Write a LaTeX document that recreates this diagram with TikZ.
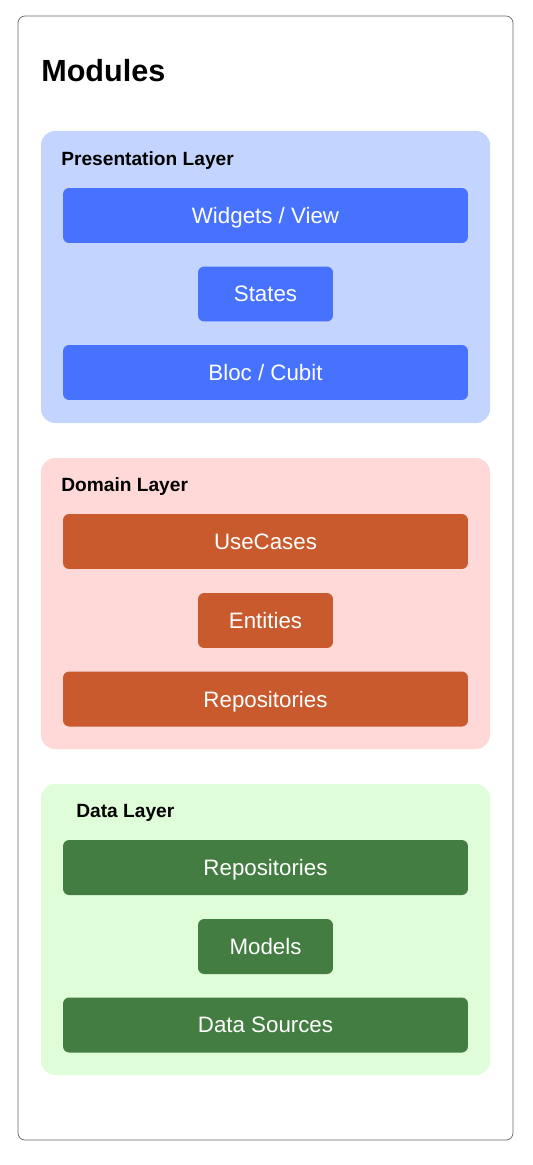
\documentclass[tikz,border=0pt]{standalone}
\usepackage{fontspec}
\setmainfont{Liberation Sans}
\definecolor{presbg}{HTML}{C3D5FF}
\definecolor{presbox}{HTML}{4771FF}
\definecolor{dombg}{HTML}{FFD8D8}
\definecolor{dombox}{HTML}{C95A2E}
\definecolor{databg}{HTML}{E0FDDA}
\definecolor{databox}{HTML}{437D41}
\tikzset{
    layer/.style={rounded corners=8pt},
    wide/.style={rectangle,rounded corners=3.5pt,minimum width=8.1cm,minimum height=1.1cm,text depth=0pt,text=white,font=\fontsize{12.7}{14}\selectfont},
    small/.style={wide,minimum width=2.7cm},
    layertitle/.style={anchor=west,inner sep=0pt,font=\bfseries\fontsize{10.9}{12}\selectfont}
}
\begin{document}
\begin{tikzpicture}[x=0.02cm,y=-0.02cm]
        \useasboundingbox (0,0) rectangle (532,1165);
        \draw[gray!80!black,rounded corners=4pt] (18,16) rectangle (513,1140);
        \node[anchor=west,inner sep=0pt,font=\bfseries\fontsize{17.4}{20}\selectfont] (title) at (41,71) {Modules};
        % presentation
        \fill[presbg,layer] (41,131) rectangle (490,423);
        \node[layertitle] (pres) at (61,160.5) {Presentation Layer};
        \node[wide,fill=presbox] (widgets) at (265.5,215.5) {Widgets / View};
        \node[small,fill=presbox] (states) at (265.5,294) {States};
        \node[wide,fill=presbox] (bloc) at (265.5,372.5) {Bloc / Cubit};
        % domain
        \fill[dombg,layer] (41,458) rectangle (490,749);
        \node[layertitle] (dom) at (61,486.5) {Domain Layer};
        \node[wide,fill=dombox] (usecases) at (265.5,541.5) {UseCases};
        \node[small,fill=dombox] (entities) at (265.5,620.5) {Entities};
        \node[wide,fill=dombox] (domrepo) at (265.5,699) {Repositories};
        % data
        \fill[databg,layer] (41,784) rectangle (490,1075);
        \node[layertitle] (data) at (76,812.5) {Data Layer};
        \node[wide,fill=databox] (datarepo) at (265.5,867.5) {Repositories};
        \node[small,fill=databox] (models) at (265.5,946.5) {Models};
        \node[wide,fill=databox] (sources) at (265.5,1025) {Data Sources};
\end{tikzpicture}
\end{document}
